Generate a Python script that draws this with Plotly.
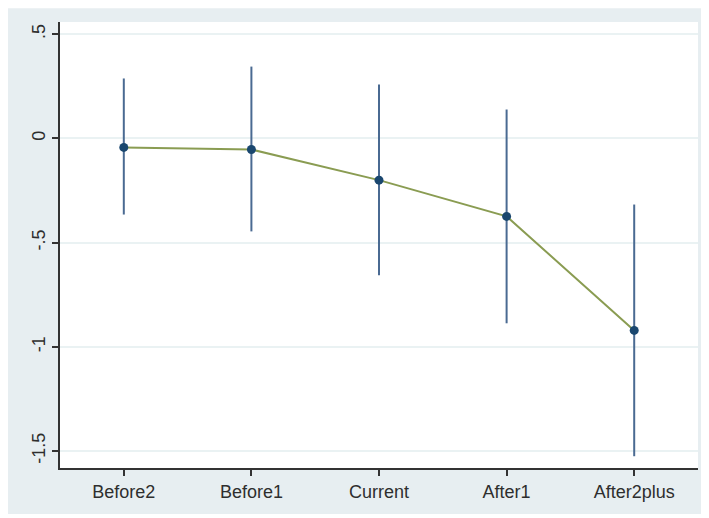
import plotly.graph_objects as go

categories = ["Before2", "Before1", "Current", "After1", "After2plus"]
coef = [-0.043, -0.053, -0.200, -0.374, -0.921]
ci_low = [-0.365, -0.446, -0.657, -0.887, -1.525]
ci_high = [0.288, 0.345, 0.259, 0.139, -0.317]

y_tickvals = [0.5, 0, -0.5, -1, -1.5]
y_ticktext = [".5", "0", "-.5", "-1", "-1.5"]

err_plus = [h - c for h, c in zip(ci_high, coef)]
err_minus = [c - l for c, l in zip(coef, ci_low)]

xpos = list(range(len(categories)))

fig = go.Figure()
fig.add_trace(go.Scatter(
    x=xpos, y=coef, mode="markers",
    marker=dict(size=1, color="rgba(0,0,0,0)"),
    error_y=dict(type="data", symmetric=False, array=err_plus, arrayminus=err_minus,
                 width=0, thickness=2, color="#4a6a92"),
    hoverinfo="skip", showlegend=False))
fig.add_trace(go.Scatter(
    x=xpos, y=coef, mode="lines",
    line=dict(color="#8a9c52", width=2), showlegend=False))
fig.add_trace(go.Scatter(
    x=xpos, y=coef, mode="markers",
    marker=dict(size=9, color="#1a476f"), showlegend=False))

font = dict(family="Liberation Sans, Arial, sans-serif", size=18, color="#2e2e2e")

fig.update_layout(
    width=709, height=518,
    margin=dict(l=52, r=19, t=14, b=58),
    paper_bgcolor="white", plot_bgcolor="white",
    font=font,
    shapes=[
        dict(type="rect", xref="paper", yref="paper", x0=-0.0815, x1=1.011, y0=-0.103, y1=1.031,
             fillcolor="#e7eef1", line=dict(width=0), layer="below"),
        dict(type="rect", xref="paper", yref="paper", x0=0, x1=1, y0=0, y1=1,
             fillcolor="white", line=dict(width=0), layer="below"),
    ],
    xaxis=dict(
        range=[-0.5, 4.5], tickmode="array", tickvals=xpos, ticktext=categories,
        showgrid=False, zeroline=False, showline=True, linecolor="#333333", linewidth=2,
        ticks="outside", ticklen=6, tickwidth=1.5, tickcolor="#333333",
        tickfont=font, automargin=False),
    yaxis=dict(
        range=[-1.5815, 0.559], tickmode="array", tickvals=y_tickvals, ticktext=y_ticktext,
        tickangle=-90, showgrid=True, gridcolor="#eaf2f3", gridwidth=1.5,
        zeroline=False, showline=True, linecolor="#333333", linewidth=2,
        ticks="outside", ticklen=6, tickwidth=1.5, tickcolor="#333333",
        tickfont=font, automargin=False),
)

fig.write_html("out.html")
